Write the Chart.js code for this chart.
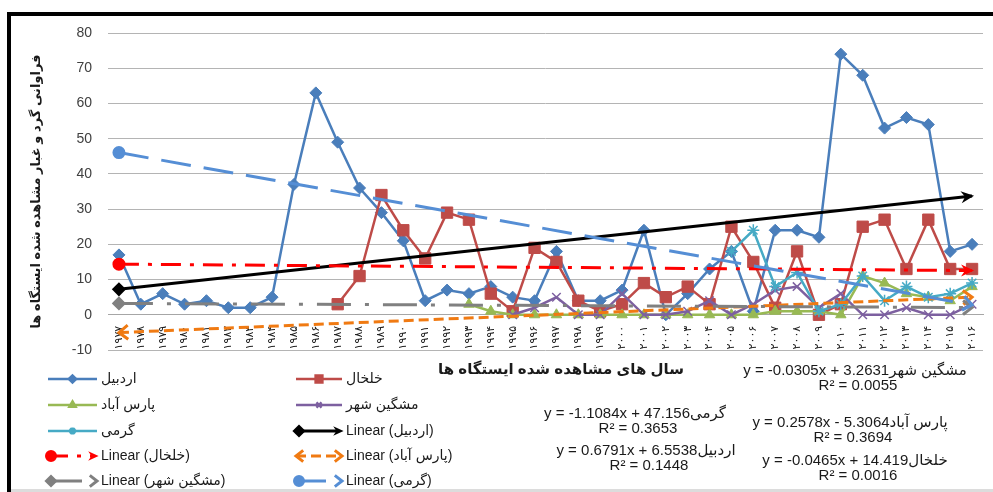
<!DOCTYPE html>
<html lang="fa">
<head>
<meta charset="UTF-8">
<title>فراوانی گرد و غبار</title>
<style>
    body { margin: 0; background: #fff; }
    #wrap { width: 993px; height: 492px; }
</style>
</head>
<body>
<div id="wrap"><canvas id="dustChart" width="993" height="492"></canvas></div>

<script src="https://cdn.jsdelivr.net/npm/chart.js"></script>
<script>
// سال ها (محور افقی)
const years = ['۱۹۷۷', '۱۹۷۸', '۱۹۷۹', '۱۹۸۰', '۱۹۸۱', '۱۹۸۲', '۱۹۸۳', '۱۹۸۴', '۱۹۸۵', '۱۹۸۶',
               '۱۹۸۷', '۱۹۸۸', '۱۹۸۹', '۱۹۹۰', '۱۹۹۱', '۱۹۹۲', '۱۹۹۳', '۱۹۹۴', '۱۹۹۵', '۱۹۹۶',
               '۱۹۹۷', '۱۹۹۸', '۱۹۹۹', '۲۰۰۰', '۲۰۰۱', '۲۰۰۲', '۲۰۰۳', '۲۰۰۴', '۲۰۰۵', '۲۰۰۶',
               '۲۰۰۷', '۲۰۰۸', '۲۰۰۹', '۲۰۱۰', '۲۰۱۱', '۲۰۱۲', '۲۰۱۳', '۲۰۱۴', '۲۰۱۵', '۲۰۱۶'];

const ardabil   = [17, 3, 6, 3, 4, 2, 2, 5, 37, 63, 49, 36, 29, 21, 4, 7, 6, 8, 5, 4,
                   18, 4, 4, 7, 24, 0, 6, 13, 18, 1, 24, 24, 22, 74, 68, 53, 56, 54, 18, 20];
const khalkhal  = [null, null, null, null, null, null, null, null, null, null,
                   3, 11, 34, 24, 16, 29, 27, 6, 1, 19,
                   15, 4, 1, 3, 9, 5, 8, 3, 25, 15, 2, 18, 0, 3, 25, 27, 13, 27, 13, 13];
const parsAbad  = [null, null, null, null, null, null, null, null, null, null,
                   null, null, null, null, null, null, 3, 1, 0, 0,
                   0, 0, 0, 0, 0, 0, 0, 0, 0, 0, 1, 1, 1, 0, 11, 9, 6, 5, 4, 8];
const meshgin   = [null, null, null, null, null, null, null, null, null, null,
                   null, null, null, null, null, null, null, null, 0, 2,
                   5, 0, 0, 6, 0, 0, 1, 4, 0, 3, 7, 8, 2, 6, 0, 0, 2, 0, 0, 3];
const garmi     = [null, null, null, null, null, null, null, null, null, null,
                   null, null, null, null, null, null, null, null, null, null,
                   null, null, null, null, null, null, null, null, 18, 24, 8, 12, 1, 3, 11, 4, 8, 5, 6, 9];

const seriesNames = ['اردبیل', 'خلخال', 'پارس آباد', 'مشگین شهر', 'گرمی'];

// معادله خط روند هر ایستگاه (از روی نمودار)
const trendSlope     = [0.6791, -0.0465, 0.2578, -0.0305, -1.1084];
const trendIntercept = [6.5538, 14.419, -5.3064, 3.2631, 47.156];
const trendR2        = [0.1448, 0.0016, 0.3694, 0.0055, 0.3653];

const yMin = -10, yMax = 80, yStep = 10;

const FONT = "'Liberation Sans', 'DejaVu Sans', sans-serif";

const seriesStyle = [
    { color: '#4a7ebb', point: 'rectRot', radius: 6 },
    { color: '#be4b48', point: 'rect', radius: 8 },
    { color: '#98b954', point: 'triangle', radius: 6 },
    { color: '#7d60a0', point: 'crossRot', radius: 6 },
    { color: '#46aac5', point: 'star', radius: 6 }
];
const trendStyle = [
    { color: '#000000', dash: [], start: 'rectRot', startR: 5, arrowStart: null, arrowEnd: 'filled' },
    { color: '#ff0000', dash: [20, 9, 4, 9], start: 'circle', startR: 5, arrowStart: null, arrowEnd: 'filled' },
    { color: '#f07a12', dash: [10, 5], start: 'circle', startR: 0, arrowStart: 'open', arrowEnd: 'open' },
    { color: '#808080', dash: [34, 14, 4, 14], start: 'rectRot', startR: 5, arrowStart: null, arrowEnd: 'open' },
    { color: '#558ed5', dash: [30, 13], start: 'circle', startR: 5, arrowStart: null, arrowEnd: 'open' }
];

function trendPoints(k) {
    const n = years.length;
    return [
        { x: years[0], y: trendSlope[k] * 1 + trendIntercept[k] },
        { x: years[n - 1], y: trendSlope[k] * n + trendIntercept[k] }
    ];
}

const seriesData = [ardabil, khalkhal, parsAbad, meshgin, garmi];
const datasets = [];

seriesData.forEach(function (vals, i) {
    const s = seriesStyle[i];
    datasets.push({
        label: seriesNames[i],
        data: vals,
        borderColor: s.color,
        backgroundColor: s.color,
        borderWidth: 2.5,
        pointStyle: s.point,
        pointRadius: s.radius,
        pointBackgroundColor: s.color,
        pointBorderColor: s.color,
        pointBorderWidth: (s.point === 'crossRot' || s.point === 'star') ? 1.5 : 1,
        tension: 0,
        fill: false,
        order: 20 - i,
        kind: 'series'
    });
});

seriesNames.forEach(function (name, k) {
    const t = trendStyle[k];
    datasets.push({
        label: 'Linear (' + name + ')',
        data: trendPoints(k),
        borderColor: t.color,
        backgroundColor: t.color,
        borderWidth: 3,
        borderDash: t.dash,
        borderCapStyle: 'butt',
        pointStyle: t.start,
        pointRadius: [t.startR, 0],
        pointHoverRadius: 0,
        pointBackgroundColor: t.color,
        pointBorderColor: t.color,
        tension: 0,
        fill: false,
        order: 5 - k,
        kind: 'trend',
        arrowStart: t.arrowStart,
        arrowEnd: t.arrowEnd
    });
});

function drawArrow(c, x, y, ang, color, kind, scale) {
    const s = scale || 1;
    c.save();
    c.translate(x, y);
    c.rotate(ang);
    c.setLineDash([]);
    if (kind === 'filled') {
        c.fillStyle = color;
        c.beginPath();
        c.moveTo(2 * s, 0);
        c.lineTo(-11 * s, -6 * s);
        c.lineTo(-7 * s, 0);
        c.lineTo(-11 * s, 6 * s);
        c.closePath();
        c.fill();
    } else {
        c.strokeStyle = color;
        c.lineWidth = 3;
        c.lineJoin = 'miter';
        c.beginPath();
        c.moveTo(-9 * s, -7 * s);
        c.lineTo(0, 0);
        c.lineTo(-9 * s, 7 * s);
        c.stroke();
    }
    c.restore();
}

function eqText(k) {
    const b = trendIntercept[k];
    return 'y = ' + trendSlope[k] + 'x ' + (b < 0 ? '- ' : '+ ') + Math.abs(b) + seriesNames[k];
}

// جای متن معادله ها (مرکز خط اول)
const eqPos = [[646, 451], [855, 461], [850, 423], [855, 371], [635, 414]];
const legendCols = [48, 296];
const legendLen = [49, 46];
const legendRows = [379, 405, 431, 456, 481];

const decorPlugin = {
    id: 'decor',
    beforeDraw(chart) {
        const c = chart.ctx;
        c.save();
        c.fillStyle = '#ffffff';
        c.fillRect(0, 0, chart.width, chart.height);
        c.fillStyle = '#000000';
        c.fillRect(7, 12, chart.width - 7, 4);
        c.fillRect(7, 12, 4, chart.height - 12);
        c.fillStyle = '#dcdcdc';
        c.fillRect(11, chart.height - 3, chart.width - 11, 3);
        c.restore();
    },
    afterDatasetsDraw(chart) {
        const c = chart.ctx;
        chart.data.datasets.forEach(function (ds, i) {
            if (ds.kind !== 'trend') return;
            const pts = chart.getDatasetMeta(i).data;
            const p0 = pts[0], p1 = pts[pts.length - 1];
            const ang = Math.atan2(p1.y - p0.y, p1.x - p0.x);
            if (ds.arrowEnd) drawArrow(c, p1.x, p1.y, ang, ds.borderColor, ds.arrowEnd);
            if (ds.arrowStart) drawArrow(c, p0.x, p0.y, ang + Math.PI, ds.borderColor, ds.arrowStart);
        });
    },
    afterDraw(chart) {
        const c = chart.ctx;
        c.save();
        c.direction = 'ltr';
        c.textBaseline = 'middle';

        // عنوان محور افقی
        c.fillStyle = '#1a1a1a';
        c.font = 'bold 15px ' + FONT;
        c.textAlign = 'center';
        c.fillText('سال های مشاهده شده ایستگاه ها', 561, 370);

        // معادله ها
        c.font = '15px ' + FONT;
        seriesNames.forEach(function (n, k) {
            c.fillText(eqText(k), eqPos[k][0], eqPos[k][1]);
            c.fillText('R² = ' + trendR2[k], eqPos[k][0] + 3, eqPos[k][1] + 15);
        });

        // راهنما
        c.textAlign = 'left';
        c.font = '14px ' + FONT;
        chart.data.datasets.forEach(function (ds, k) {
            const col = k % 2, row = Math.floor(k / 2);
            const x0 = legendCols[col], x1 = x0 + legendLen[col], y = legendRows[row];
            c.save();
            c.strokeStyle = ds.borderColor;
            c.lineWidth = ds.kind === 'trend' ? 3 : 2.5;
            c.setLineDash(ds.kind === 'trend' ? ds.borderDash : []);
            c.beginPath();
            c.moveTo(x0, y);
            c.lineTo(ds.arrowEnd ? x1 - 4 : x1, y);
            c.stroke();
            c.setLineDash([]);
            c.fillStyle = ds.borderColor;
            if (ds.kind === 'series') {
                Chart.helpers.drawPoint(c, { pointStyle: ds.pointStyle, radius: ds.pointRadius * 0.6, rotation: 0, borderWidth: 1.5 }, (x0 + x1) / 2, y);
            } else {
                if (ds.pointRadius[0] > 0) {
                    Chart.helpers.drawPoint(c, { pointStyle: ds.pointStyle, radius: ds.pointRadius[0] * 0.9, rotation: 0, borderWidth: 1 }, x0 + 3, y);
                }
                if (ds.arrowStart) drawArrow(c, x0, y, Math.PI, ds.borderColor, ds.arrowStart, 0.8);
                drawArrow(c, x1, y, 0, ds.borderColor, ds.arrowEnd, 0.8);
            }
            c.restore();
            c.fillStyle = '#1a1a1a';
            c.fillText(ds.label, legendCols[col] + legendLen[col] + 4, y);
        });
        c.restore();
    }
};

const ctx = document.getElementById('dustChart').getContext('2d');
const dustChart = new Chart(ctx, {
    type: 'line',
    data: { labels: years, datasets: datasets },
    options: {
        responsive: false,
        animation: false,
        devicePixelRatio: 1,
        layout: { padding: { left: 20, top: 33, right: 10, bottom: 142 } },
        plugins: {
            legend: { display: false },
            tooltip: { enabled: false }
        },
        scales: {
            x: {
                type: 'category',
                position: { y: 0 },
                offset: true,
                grid: { display: false },
                border: { display: true, color: '#a6a6a6', width: 1 },
                ticks: {
                    autoSkip: false,
                    minRotation: 90,
                    maxRotation: 90,
                    padding: 3,
                    color: '#222',
                    font: { family: "'DejaVu Sans', sans-serif", size: 11 }
                }
            },
            y: {
                min: yMin,
                max: yMax,
                afterFit(scale) { scale.width = 88; },
                grid: { color: '#b4b4b4', lineWidth: 1, drawTicks: false },
                border: { display: false },
                ticks: {
                    stepSize: yStep,
                    padding: 16,
                    color: '#404040',
                    font: { family: FONT, size: 14 }
                },
                title: {
                    display: true,
                    text: 'فراوانی گرد و غبار مشاهده شده ایستگاه ها',
                    color: '#1a1a1a',
                    padding: { top: 9, bottom: 0 },
                    font: { family: FONT, size: 13, weight: 'bold' }
                }
            }
        }
    },
    plugins: [decorPlugin]
});
</script>
</body>
</html>
